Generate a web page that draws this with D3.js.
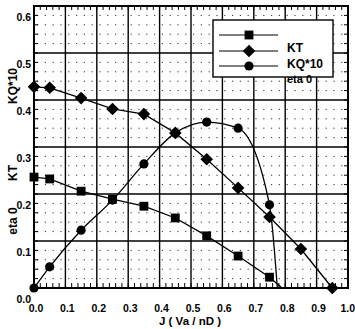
<!DOCTYPE html>
<html>
<head>
<meta charset="utf-8">
<script src="https://cdn.jsdelivr.net/npm/d3@7/dist/d3.min.js"></script>
<style>
  body { margin: 0; background: #fff; }
  svg { display: block; }
  text { font-family: "Liberation Sans", Arial, sans-serif; font-weight: bold; fill: #000; }
</style>
</head>
<body>
<svg id="chart" width="355" height="329"></svg>
<script>
'use strict';

// data
const ktJ = [0, 0.05, 0.15, 0.25, 0.35, 0.45, 0.55, 0.65, 0.75];
const ktVal = [0.236, 0.232, 0.206, 0.189, 0.174, 0.149, 0.111, 0.068, 0.023];
const kqJ = [0, 0.05, 0.15, 0.25, 0.35, 0.45, 0.55, 0.65, 0.75, 0.85, 0.95];
const kqVal = [0.428, 0.426, 0.404, 0.381, 0.370, 0.330, 0.274, 0.213, 0.151, 0.083, 0.0];
const etaJ = [0, 0.05, 0.15, 0.25, 0.35, 0.45, 0.55, 0.65, 0.75];
const etaVal = [0, 0.045, 0.123, 0.187, 0.264, 0.330, 0.353, 0.340, 0.177];
// where the lines run down to zero (no marker there)
const ktEnd = [0.79, 0];
const etaEnd = [0.775, 0];

const xTicks = [0, 0.1, 0.2, 0.3, 0.4, 0.5, 0.6, 0.7, 0.8, 0.9, 1.0];
const yTicks = [0, 0.1, 0.2, 0.3, 0.4, 0.5, 0.6];
const legendNames = ['KT', 'KQ*10', 'eta 0'];
const yTitles = ['KQ*10', 'KT', 'eta 0'];

const pLeft = 34, pRight = 348, pTop = 6, pBottom = 288;
const x = d3.scaleLinear().domain([0, 1]).range([pLeft, pRight]);
const y = d3.scaleLinear().domain([0, 0.6]).range([pBottom, pTop]);

const svg = d3.select('#chart');

// dotted minor grid (rows of dots)
const minorY = d3.range(0.02, 0.6, 0.02).filter(v => Math.abs(v * 10 - Math.round(v * 10)) > 0.01);
svg.append('g').selectAll('line').data(minorY).join('line')
  .attr('x1', pLeft + 3).attr('x2', pRight)
  .attr('y1', d => y(d)).attr('y2', d => y(d))
  .attr('stroke', '#333').attr('stroke-width', 1)
  .attr('stroke-dasharray', '1.2,6.6');

// major grid
svg.append('g').selectAll('line').data(yTicks.slice(1, -1)).join('line')
  .attr('x1', pLeft).attr('x2', pRight)
  .attr('y1', d => y(d)).attr('y2', d => y(d))
  .attr('stroke', '#000').attr('stroke-width', 1.4);
svg.append('g').selectAll('line').data(xTicks.slice(1, -1)).join('line')
  .attr('y1', pTop).attr('y2', pBottom)
  .attr('x1', d => x(d)).attr('x2', d => x(d))
  .attr('stroke', '#000').attr('stroke-width', 1.4);

// inward minor ticks on every side
const tickY = d3.range(0, 0.61, 0.02);
const tickX = d3.range(0, 1.001, 0.02);
const tk = svg.append('g').attr('stroke', '#000').attr('stroke-width', 1);
tk.selectAll('.tl').data(tickY).join('line').attr('class', 'tl')
  .attr('x1', pLeft).attr('x2', pLeft + 4).attr('y1', d => y(d)).attr('y2', d => y(d));
tk.selectAll('.tr').data(tickY).join('line').attr('class', 'tr')
  .attr('x1', pRight).attr('x2', pRight - 4).attr('y1', d => y(d)).attr('y2', d => y(d));
tk.selectAll('.tb').data(tickX).join('line').attr('class', 'tb')
  .attr('y1', pBottom).attr('y2', pBottom - 5).attr('x1', d => x(d)).attr('x2', d => x(d));
tk.selectAll('.tt').data(tickX).join('line').attr('class', 'tt')
  .attr('y1', pTop).attr('y2', pTop + 4).attr('x1', d => x(d)).attr('x2', d => x(d));

// frame
svg.append('rect')
  .attr('x', pLeft).attr('y', pTop)
  .attr('width', pRight - pLeft).attr('height', pBottom - pTop)
  .attr('fill', 'none').attr('stroke', '#000').attr('stroke-width', 2);

// tick labels (the y labels sit a bit below their lines, as in the scan)
svg.append('g').selectAll('text').data(xTicks).join('text')
  .attr('x', d => d === 1 ? 355 : x(d) + 2).attr('y', 312)
  .attr('text-anchor', d => d === 1 ? 'end' : 'middle').attr('font-size', 10.5)
  .text(d => d.toFixed(1));
svg.append('g').selectAll('text').data(yTicks).join('text')
  .attr('x', 31).attr('y', d => y(d) + 15)
  .attr('text-anchor', 'end').attr('font-size', 10.5)
  .text(d => d.toFixed(1));

// axis titles
const yTitlePos = [86, 173, 221];
svg.append('g').selectAll('text').data(yTitles).join('text')
  .attr('transform', (d, i) => `translate(17, ${yTitlePos[i]}) rotate(-90)`)
  .attr('text-anchor', 'middle').attr('font-size', 12)
  .text(d => d);
svg.append('text')
  .attr('x', 190).attr('y', 325)
  .attr('text-anchor', 'middle').attr('font-size', 11.5)
  .text('J ( Va / nD )');

// series
const lineLin = d3.line().x(d => x(d[0])).y(d => y(d[1]));
const lineCurve = d3.line().x(d => x(d[0])).y(d => y(d[1])).curve(d3.curveMonotoneX);

const ktPts = ktJ.map((j, i) => [j, ktVal[i]]);
const kqPts = kqJ.map((j, i) => [j, kqVal[i]]);
const etaPts = etaJ.map((j, i) => [j, etaVal[i]]);

const lines = svg.append('g').attr('fill', 'none').attr('stroke', '#000').attr('stroke-width', 1.3);
lines.append('path').attr('d', lineLin(ktPts.concat([ktEnd])));
lines.append('path').attr('d', lineLin(kqPts));
lines.append('path').attr('d', lineCurve(etaPts.concat([etaEnd])));

const sq = d3.symbol().type(d3.symbolSquare).size(78);
// a square turned on its corner, so the diamond is as wide as it is tall
const dia = 'M0,-6.3L6.3,0L0,6.3L-6.3,0Z';

svg.append('g').selectAll('path').data(ktPts).join('path')
  .attr('transform', d => `translate(${x(d[0])}, ${y(d[1])})`)
  .attr('d', sq);
svg.append('g').selectAll('path').data(kqPts).join('path')
  .attr('transform', d => `translate(${x(d[0])}, ${y(d[1])})`)
  .attr('d', dia);
svg.append('g').selectAll('circle').data(etaPts).join('circle')
  .attr('cx', d => x(d[0])).attr('cy', d => y(d[1]))
  .attr('r', 4.6);

// legend
const lg = svg.append('g');
lg.append('rect')
  .attr('x', 213).attr('y', 20).attr('width', 120).attr('height', 57)
  .attr('fill', '#fff').attr('stroke', '#000').attr('stroke-width', 1.4);
const rowY = [35, 51, 66];
const legendSym = [sq, dia, null];
legendNames.forEach((name, i) => {
  lg.append('line')
    .attr('x1', 219).attr('x2', 278)
    .attr('y1', rowY[i]).attr('y2', rowY[i])
    .attr('stroke', '#000').attr('stroke-width', 1.2);
  if (legendSym[i]) {
    lg.append('path').attr('transform', `translate(249, ${rowY[i]})`).attr('d', legendSym[i]);
  } else {
    lg.append('circle').attr('cx', 249).attr('cy', rowY[i]).attr('r', 4.6);
  }
  lg.append('text')
    .attr('x', 287).attr('y', rowY[i] + 17)
    .attr('font-size', i == 2 ? 11 : 12)
    .text(name);
});
</script>
</body>
</html>
